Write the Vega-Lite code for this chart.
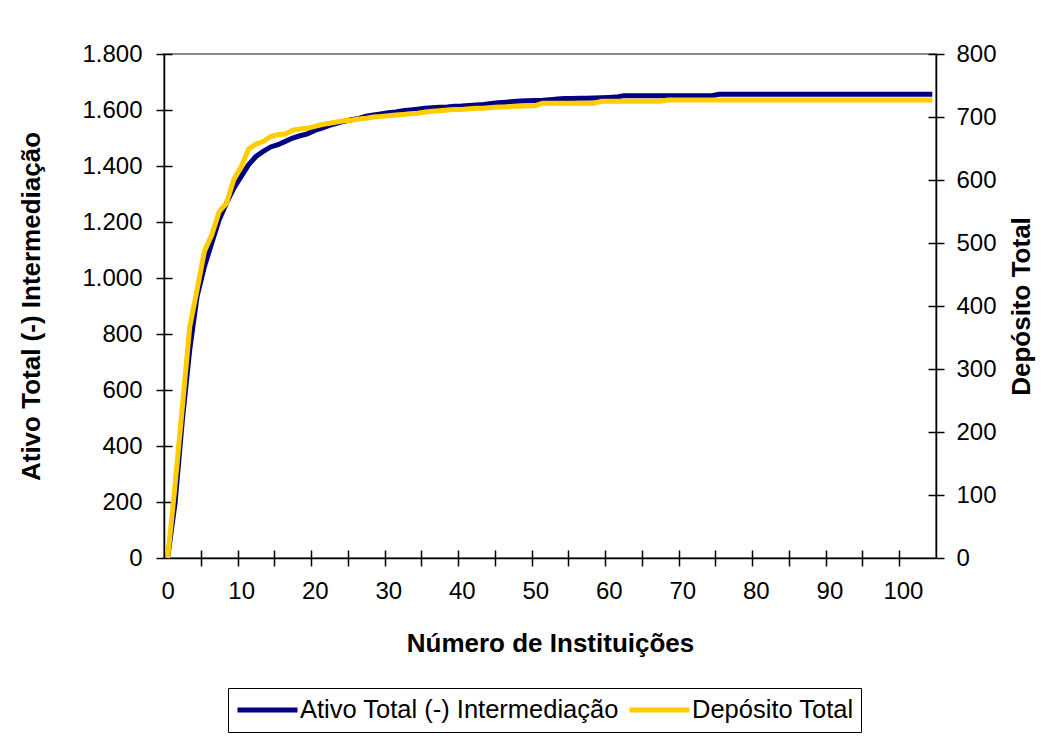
{
  "$schema": "https://vega.github.io/schema/vega-lite/v6.json",
  "width": 772,
  "height": 504,
  "autosize": "none",
  "padding": {"left": 164, "top": 54, "right": 121, "bottom": 180},
  "background": "white",
  "config": {
    "font": "Liberation Sans",
    "view": {"stroke": "#8c8c8c", "strokeWidth": 2},
    "axis": {"grid": false, "labelFont": "Liberation Sans", "labelFontSize": 24, "labelColor": "#000", "titleFont": "Liberation Sans", "titleFontSize": 26, "titleFontWeight": "bold", "titleColor": "#000", "domainColor": "#000", "domainWidth": 1.5, "tickColor": "#000", "tickWidth": 1.5}
  },
  "data": {"values": [
    {"n":0,"a":0,"d":0},{"n":1,"a":196,"d":115},{"n":2,"a":494,"d":240},{"n":3,"a":744,"d":367},{"n":4,"a":934,"d":426},
    {"n":5,"a":1041,"d":487},{"n":6,"a":1125,"d":513},{"n":7,"a":1208,"d":550},{"n":8,"a":1268,"d":563},{"n":9,"a":1321,"d":601},
    {"n":10,"a":1363,"d":621},{"n":11,"a":1404,"d":649},{"n":12,"a":1434,"d":657},{"n":13,"a":1452,"d":661},{"n":14,"a":1468,"d":669},
    {"n":15,"a":1476,"d":672},{"n":16,"a":1488,"d":673},{"n":17,"a":1500,"d":679},{"n":18,"a":1508,"d":681},{"n":19,"a":1515,"d":682},
    {"n":20,"a":1527,"d":685},{"n":21,"a":1535,"d":688},{"n":22,"a":1545,"d":690},{"n":23,"a":1552,"d":692},{"n":24,"a":1560,"d":694},
    {"n":25,"a":1565,"d":695},{"n":26,"a":1570,"d":697},{"n":27,"a":1578,"d":698},{"n":28,"a":1582,"d":700},{"n":29,"a":1586,"d":701},
    {"n":30,"a":1590,"d":702},{"n":31,"a":1593,"d":703},{"n":32,"a":1597,"d":704},{"n":33,"a":1600,"d":705},{"n":34,"a":1603,"d":706},
    {"n":35,"a":1606,"d":708},{"n":36,"a":1608,"d":709},{"n":37,"a":1610,"d":710},{"n":38,"a":1611,"d":711},{"n":39,"a":1613,"d":712},
    {"n":40,"a":1614,"d":712},{"n":41,"a":1616,"d":713},{"n":42,"a":1618,"d":714},{"n":43,"a":1620,"d":714},{"n":44,"a":1623,"d":715},
    {"n":45,"a":1626,"d":716},{"n":46,"a":1628,"d":716},{"n":47,"a":1630,"d":717},{"n":48,"a":1632,"d":717},{"n":49,"a":1633,"d":718},
    {"n":50,"a":1634,"d":718},{"n":51,"a":1635,"d":722},{"n":52,"a":1637,"d":722},{"n":53,"a":1639,"d":722},{"n":54,"a":1641,"d":722},
    {"n":55,"a":1641,"d":722},{"n":56,"a":1642,"d":722},{"n":57,"a":1642,"d":722},{"n":58,"a":1643,"d":722},{"n":59,"a":1644,"d":725},
    {"n":60,"a":1645,"d":725},{"n":61,"a":1646,"d":725},{"n":62,"a":1651,"d":725},{"n":63,"a":1651,"d":725},{"n":64,"a":1651,"d":725},
    {"n":65,"a":1651,"d":725},{"n":66,"a":1651,"d":725},{"n":67,"a":1651,"d":725},{"n":68,"a":1651,"d":727},{"n":69,"a":1651,"d":727},
    {"n":70,"a":1651,"d":727},{"n":71,"a":1651,"d":727},{"n":72,"a":1651,"d":727},{"n":73,"a":1651,"d":727},{"n":74,"a":1651,"d":727},
    {"n":75,"a":1656,"d":727},{"n":76,"a":1656,"d":727},{"n":77,"a":1656,"d":727},{"n":78,"a":1656,"d":727},{"n":79,"a":1656,"d":727},
    {"n":80,"a":1656,"d":727},{"n":81,"a":1656,"d":727},{"n":82,"a":1656,"d":727},{"n":83,"a":1656,"d":727},{"n":84,"a":1656,"d":727},
    {"n":85,"a":1656,"d":727},{"n":86,"a":1656,"d":727},{"n":87,"a":1656,"d":727},{"n":88,"a":1656,"d":727},{"n":89,"a":1656,"d":727},
    {"n":90,"a":1656,"d":727},{"n":91,"a":1656,"d":727},{"n":92,"a":1656,"d":727},{"n":93,"a":1656,"d":727},{"n":94,"a":1656,"d":727},
    {"n":95,"a":1656,"d":727},{"n":96,"a":1656,"d":727},{"n":97,"a":1656,"d":727},{"n":98,"a":1656,"d":727},{"n":99,"a":1656,"d":727},
    {"n":100,"a":1656,"d":727},{"n":101,"a":1656,"d":727},{"n":102,"a":1656,"d":727},{"n":103,"a":1656,"d":727},{"n":104,"a":1656,"d":727}
  ]},
  "layer": [
    {
      "mark": {"type": "line", "opacity": 0},
      "encoding": {
        "x": {"field": "n", "type": "quantitative", "scale": {"domain": [-0.5, 104.5], "nice": false, "zero": false},
              "axis": {"orient": "bottom", "values": [4.5,9.5,14.5,19.5,24.5,29.5,34.5,39.5,44.5,49.5,54.5,59.5,64.5,69.5,74.5,79.5,84.5,89.5,94.5,99.5], "labels": false, "domain": false, "tickSize": -8, "title": null}},
        "y": {"field": "a", "type": "quantitative", "scale": {"domain": [0, 1800], "nice": false},
              "axis": {"orient": "left", "values": [200,400,600,800,1000,1200,1400,1600,1800], "labels": false, "domain": false, "tickSize": -8, "title": null}}
      }
    },
    {
      "mark": {"type": "line", "opacity": 0},
      "encoding": {
        "x": {"field": "n", "type": "quantitative", "scale": {"domain": [-0.5, 104.5], "nice": false, "zero": false},
              "axis": {"orient": "bottom", "values": [4.5,9.5,14.5,19.5,24.5,29.5,34.5,39.5,44.5,49.5,54.5,59.5,64.5,69.5,74.5,79.5,84.5,89.5,94.5,99.5], "labels": false, "domain": false, "tickSize": 8, "title": null}},
        "y": {"field": "d", "type": "quantitative", "scale": {"domain": [0, 800], "nice": false},
              "axis": {"orient": "right", "values": [100,200,300,400,500,600,700,800], "labels": false, "domain": false, "tickSize": -8, "title": null}}
      }
    },
    {
      "mark": {"type": "line", "strokeWidth": 5, "interpolate": "linear"},
      "encoding": {
        "x": {"field": "n", "type": "quantitative", "scale": {"domain": [-0.5, 104.5], "nice": false, "zero": false},
              "axis": {"orient": "bottom", "values": [0,10,20,30,40,50,60,70,80,90,100], "ticks": false, "labelPadding": 21, "title": "Número de Instituições", "titlePadding": 27}},
        "y": {"field": "a", "type": "quantitative", "scale": {"domain": [0, 1800], "nice": false},
              "axis": {"orient": "left", "values": [0,200,400,600,800,1000,1200,1400,1600,1800], "tickSize": 8, "labelPadding": 14, "labelExpr": "replace(format(datum.value, ','), ',', '.')", "title": "Ativo Total (-) Intermediação", "titlePadding": 37}},
        "color": {"datum": "Ativo Total (-) Intermediação", "type": "nominal",
                  "scale": {"domain": ["Ativo Total (-) Intermediação", "Depósito Total"], "range": ["#000080", "#FFCC00"]},
                  "legend": {"orient": "none", "legendX": 64, "legendY": 634, "direction": "horizontal", "title": null, "strokeColor": "#000", "padding": 7, "symbolType": "stroke", "symbolSize": 3600, "symbolStrokeWidth": 5, "clipHeight": 30, "labelFont": "Liberation Sans", "labelFontSize": 25.5, "labelLimit": 0, "labelColor": "#000", "labelOffset": 0, "columnPadding": 8, "fillColor": "white"}}
      }
    },
    {
      "mark": {"type": "line", "strokeWidth": 5, "interpolate": "linear"},
      "encoding": {
        "x": {"field": "n", "type": "quantitative", "scale": {"domain": [-0.5, 104.5], "nice": false, "zero": false}, "axis": null},
        "y": {"field": "d", "type": "quantitative", "scale": {"domain": [0, 800], "nice": false},
              "axis": {"orient": "right", "values": [0,100,200,300,400,500,600,700,800], "tickSize": 8, "labelPadding": 12, "title": "Depósito Total", "titleAngle": -90, "titlePadding": 38}},
        "color": {"datum": "Depósito Total", "type": "nominal"}
      }
    }
  ],
  "resolve": {"scale": {"y": "independent"}, "axis": {"x": "independent", "y": "independent"}}
}
